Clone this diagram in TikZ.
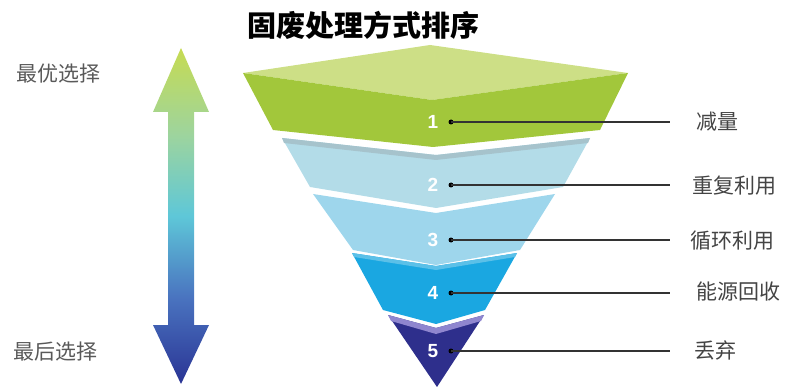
\documentclass[tikz,border=0pt]{standalone}
\usepackage{fontspec}
\setmainfont{Liberation Sans}
\newfontfamily\cjk{Noto Sans CJK SC}
\definecolor{gtop}{HTML}{CDDF86}
\definecolor{gfront}{HTML}{A2C73B}
\definecolor{btwo}{HTML}{B3DCE8}
\definecolor{btwoband}{HTML}{A6C3CC}
\definecolor{bthree}{HTML}{9ED6EC}
\definecolor{bfour}{HTML}{1AA7E1}
\definecolor{bfourband}{HTML}{5BC0E8}
\definecolor{pband}{HTML}{8F86CF}
\definecolor{dfive}{HTML}{2E2F8C}
\definecolor{arrtop}{HTML}{C6DB52}
\definecolor{arrlg}{HTML}{9DD49E}
\definecolor{arrmid}{HTML}{5EC7D8}
\definecolor{arrblue}{HTML}{4A74C0}
\definecolor{arrbot}{HTML}{2A3494}
\definecolor{labgray}{HTML}{444444}
\pgfdeclareverticalshading{arrshade}{100bp}{color(0bp)=(arrbot); color(25bp)=(arrbot); color(38bp)=(arrblue); color(50bp)=(arrmid); color(62bp)=(arrlg); color(75bp)=(arrtop); color(100bp)=(arrtop)}
\tikzset{
  numlab/.style={text=white,font=\bfseries\fontsize{19}{19}\selectfont,inner sep=0pt},
  sidelab/.style={text=labgray,font=\cjk\fontsize{21}{21}\selectfont,anchor=west,inner sep=0pt},
  leader/.style={draw=black!80,line width=1.2pt},
  dotmark/.style={circle,fill=black,inner sep=0pt,minimum size=5pt}
}
\begin{document}
\begin{tikzpicture}[x=1pt,y=-1pt]
\useasboundingbox (0,0) rectangle (791,387);
% title
\node[font=\cjk\bfseries\fontsize{29}{31}\selectfont,inner sep=0pt] (title) at (363,25) {固废处理方式排序};
% double arrow
\shade[shading=arrshade]
  (181,48) -- (209,112) -- (194,112) -- (194,325) -- (209,325) -- (181,384)
  -- (153,325) -- (168,325) -- (168,112) -- (153,112) -- cycle;
\node[sidelab,text=black!65] (best) at (16,74) {最优选择};
\node[sidelab,text=black!65] (last) at (13,352) {最后选择};
% layer 1
\fill[gtop] (243,73) -- (430,45) -- (628,73) -- (432,100) -- cycle;
\fill[gfront] (243,73) -- (432,100) -- (628,73) -- (600,130) -- (433,147) -- (273,130) -- cycle;
% layer 2
\fill[btwo] (282,138) -- (436,155) -- (590,138) -- (563,187) -- (436,208) -- (310,187) -- cycle;
\fill[btwoband] (282,138) -- (436,155) -- (590,138) -- (588,143) -- (436,160) -- (284,143) -- cycle;
% layer 3
\fill[bthree] (313,194) -- (436,213) -- (555,194) -- (520,250) -- (436,265) -- (353,250) -- cycle;
% layer 4
\fill[bfour] (352,253) -- (436,266) -- (517,253) -- (485,310) -- (436,324) -- (383,310) -- cycle;
\fill[bfourband] (352,253) -- (436,266) -- (517,253) -- (515,257) -- (436,270) -- (354,257) -- cycle;
% layer 5
\fill[dfive] (388,315) -- (436,328) -- (484,315) -- (437,387) -- cycle;
\fill[pband] (388,315) -- (436,328) -- (484,315) -- (481,321) -- (436,334) -- (391,321) -- cycle;
% numbers
\node[numlab] (n1) at (433,122) {1};
\node[numlab] (n2) at (433,185) {2};
\node[numlab] (n3) at (433,240) {3};
\node[numlab] (n4) at (433,293) {4};
\node[numlab] (n5) at (433,351) {5};
% dots and leader ends
\foreach \i/\y in {1/122,2/185,3/240,4/293,5/351}{
  \node[dotmark] (d\i) at (451,\y) {};
  \coordinate (e\i) at (670,\y);
  \draw[leader] (d\i.center) -- (e\i);
}
% labels
\node[sidelab] (l1) at (696,122) {减量};
\node[sidelab] (l2) at (692,186) {重复利用};
\node[sidelab] (l3) at (690,241) {循环利用};
\node[sidelab] (l4) at (696,292) {能源回收};
\node[sidelab] (l5) at (694,350) {丢弃};
\end{tikzpicture}
\end{document}
